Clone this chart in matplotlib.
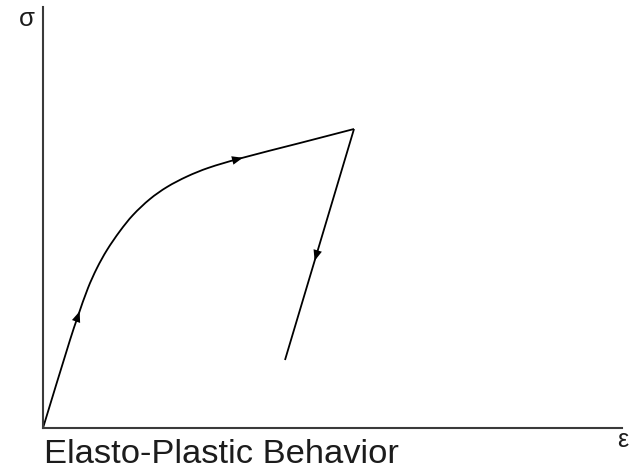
import matplotlib
matplotlib.use("Agg")
import matplotlib.pyplot as plt
from matplotlib.path import Path
from matplotlib.patches import PathPatch
import numpy as np

# Loading path (strain, stress) in arbitrary units
load_strain = [0.00, 0.27, 0.35, 0.45, 0.54, 0.64, 0.77, 0.90, 1.07, 1.24,
               1.44, 1.65, 1.95, 2.57, 3.11]
load_stress = [0.00, 0.88, 1.12, 1.40, 1.60, 1.78, 1.97, 2.13, 2.29, 2.41,
               2.515, 2.60, 2.69, 2.85, 2.99]

# Elastic unloading path from the peak
unload_strain = [3.11, 2.42]
unload_stress = [2.99, 0.68]

title_text = "Elasto-Plastic Behavior"
x_label = "ε"
y_label = "σ"

W, H, DPI = 631, 469, 100
fig = plt.figure(figsize=(W / DPI, H / DPI), dpi=DPI)
fig.patch.set_facecolor("white")

x0, x1, y0, y1 = 43, 622, 7, 428
ax = fig.add_axes([x0 / W, (H - y1) / H, (x1 - x0) / W, (y1 - y0) / H])
ax.set_xlim(0, (x1 - x0) / 100)
ax.set_ylim(0, (y1 - y0) / 100)
for s in ("top", "right"):
    ax.spines[s].set_visible(False)
for s in ("left", "bottom"):
    ax.spines[s].set_color("#3a3a3a")
    ax.spines[s].set_linewidth(1.5)
ax.set_xticks([])
ax.set_yticks([])


def smooth_path(xs, ys):
    """Cubic Bezier path through the points, chord-length Catmull-Rom tangents."""
    p = np.column_stack([xs, ys]).astype(float)
    n = len(p)
    t = np.concatenate([[0], np.cumsum(np.hypot(*np.diff(p, axis=0).T))])
    tang = np.zeros_like(p)
    tang[0] = (p[1] - p[0]) / (t[1] - t[0])
    tang[-1] = (p[-1] - p[-2]) / (t[-1] - t[-2])
    for i in range(1, n - 1):
        tang[i] = (p[i + 1] - p[i - 1]) / (t[i + 1] - t[i - 1])
    verts = [p[0]]
    codes = [Path.MOVETO]
    for i in range(n - 1):
        h = t[i + 1] - t[i]
        verts += [p[i] + tang[i] * h / 3, p[i + 1] - tang[i + 1] * h / 3, p[i + 1]]
        codes += [Path.CURVE4] * 3
    return Path(verts, codes)


ax.add_patch(PathPatch(smooth_path(load_strain, load_stress), fill=False,
                       edgecolor="black", lw=1.3, capstyle="butt"))
ax.plot(unload_strain, unload_stress, color="black", lw=1.3,
        solid_capstyle="butt")


def arrow_at(xs, ys, i, frac=0.0):
    """Place a small filled arrowhead on segment i of a polyline."""
    xs, ys = np.asarray(xs), np.asarray(ys)
    p0 = np.array([xs[i], ys[i]])
    p1 = np.array([xs[i + 1], ys[i + 1]])
    d = (p1 - p0) / np.hypot(*(p1 - p0))
    c = p0 + (p1 - p0) * frac
    ax.annotate("", xy=c + d * 0.05, xytext=c - d * 0.05,
                arrowprops=dict(arrowstyle="-|>,head_length=0.6,head_width=0.24",
                                mutation_scale=13, color="black", lw=0,
                                shrinkA=0, shrinkB=0))


arrow_at(load_strain, load_stress, 2, 0.0)
arrow_at(load_strain, load_stress, 12, 0.0)
arrow_at(unload_strain, unload_stress, 0, 0.55)

font = "Liberation Sans"
txt_color = "#1c1c1c"
fig.text(27 / W, 1 - 19 / H, y_label, family=font, fontsize=18.5,
         ha="center", va="center", color=txt_color)
fig.text(623 / W, 1 - 440 / H, x_label, family=font, fontsize=18,
         ha="center", va="center", color=txt_color)
fig.text(44 / W, 1 - 463 / H, title_text, family=font, fontsize=24.8,
         ha="left", va="baseline", color=txt_color)

fig.savefig("out.png", dpi=DPI, facecolor="white")
